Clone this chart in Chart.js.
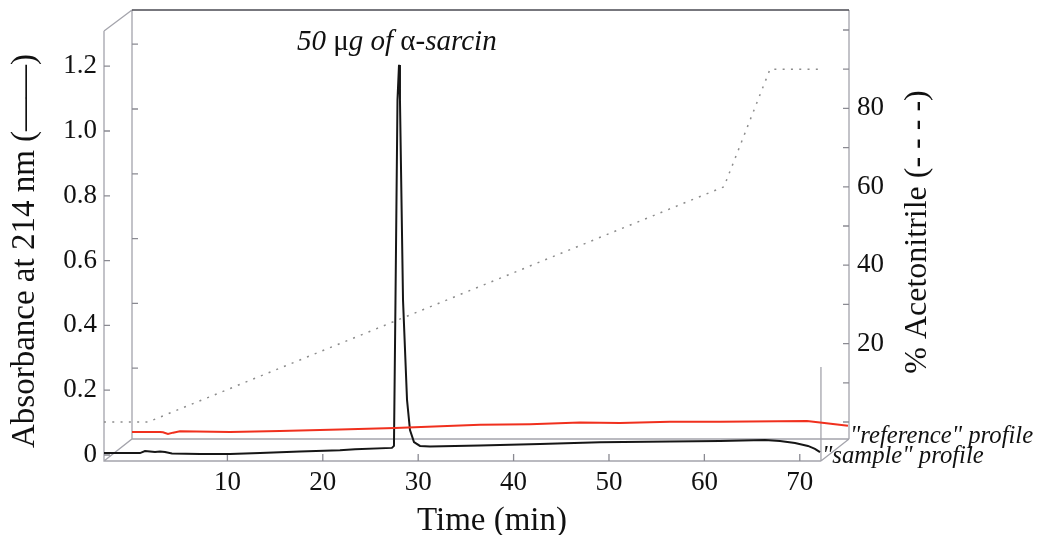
<!DOCTYPE html>
<html><head><meta charset="utf-8">
<script src="https://cdn.jsdelivr.net/npm/chart.js@4.4.0/dist/chart.umd.min.js"></script>
<style>html,body{margin:0;padding:0;background:#fff}#wrap{width:1039px;height:535px}</style>
</head><body><div id="wrap"><canvas id="c" width="1039" height="535"></canvas></div>
<script>
// ---- data ----
const sampleTime = [-2.94,-0.21,0.84,1.36,1.89,2.41,2.94,3.46,4.19,7.13,10.27,13.42,17.61,21.8,23.38,27.25,27.46,27.62,27.83,27.99,28.09,28.41,28.83,29.14,29.56,30.19,31.24,36.48,42.77,49.06,56.39,61.64,66.35,67.92,69.5,70.86,71.59,72.12];
const sampleAbs  = [0.006,0.006,0.006,0.012,0.011,0.009,0.011,0.009,0.005,0.003,0.003,0.006,0.011,0.015,0.018,0.022,0.028,0.478,1.096,1.204,1.096,0.478,0.17,0.077,0.040,0.028,0.026,0.029,0.034,0.039,0.042,0.043,0.046,0.043,0.037,0.028,0.019,0.009];
const refTime = [0,2.94,3.25,3.77,4.3,5.03,10.27,15.51,21.8,27.57,36.48,41.72,46.96,51.15,56.39,61.64,70.75,72.12,75.05];
const refAbs  = [0.071,0.071,0.070,0.065,0.069,0.073,0.071,0.074,0.079,0.083,0.093,0.095,0.100,0.099,0.103,0.103,0.105,0.100,0.090];
const acnTime = [-2.94,1.68,62.05,66.88,72.12];
const acnPct  = [0,0,60,90,90];
const timeTicks = [10,20,30,40,50,60,70];
const absTicks = [0,0.2,0.4,0.6,0.8,1.0,1.2];
const acnTicks = [20,40,60,80];
const acnMinorTicks = [0,10,20,30,40,50,60,70,80,90,100];

const pts = (xs, ys) => xs.map((x, i) => ({x: x, y: ys[i]}));
const SERIF = '"Liberation Serif", "DejaVu Serif", serif';
Chart.defaults.font.family = SERIF;

const DX = 28, DY = -22; // offset of back plane
const frame = {
  id: 'frame',
  beforeDatasetsDraw(chart) {
    const ctx = chart.ctx, ca = chart.chartArea;
    const xs = chart.scales.x, ys = chart.scales.y, yr = chart.scales.yR;
    const L = ca.left, B = ca.bottom, T = ca.top;
    const FR = xs.getPixelForValue(72.22);
    const BR = ca.right;
    ctx.save();
    ctx.lineWidth = 1.3;
    ctx.strokeStyle = '#a4a4ac';
    ctx.beginPath();
    ctx.moveTo(L, T); ctx.lineTo(L, B);
    ctx.lineTo(FR, B);
    ctx.moveTo(L, B); ctx.lineTo(L + DX, B + DY);
    ctx.lineTo(BR, B + DY);
    ctx.moveTo(L + DX, B + DY); ctx.lineTo(L + DX, T + DY + 1);
    ctx.moveTo(L, T); ctx.lineTo(L + DX, T + DY + 1);
    ctx.moveTo(BR, T + DY + 1); ctx.lineTo(BR, B + DY);
    ctx.moveTo(FR, B); ctx.lineTo(BR, B + DY);
    ctx.moveTo(FR, B); ctx.lineTo(FR, 367);
    ctx.stroke();
    ctx.strokeStyle = '#4a4a52';
    ctx.beginPath(); ctx.moveTo(L + DX, T + DY + 1); ctx.lineTo(BR, T + DY + 1); ctx.stroke();
    ctx.strokeStyle = '#8a8a92';
    ctx.beginPath();
    absTicks.forEach(v => {
      const p = ys.getPixelForValue(v);
      ctx.moveTo(L, p); ctx.lineTo(L + 6, p);
      if (v > 0) { ctx.moveTo(L + DX, p + DY); ctx.lineTo(L + DX + 6, p + DY); }
    });
    acnMinorTicks.forEach(v => {
      const p = yr.getPixelForValue(v);
      ctx.moveTo(BR, p); ctx.lineTo(BR - 6, p);
    });
    timeTicks.forEach(v => {
      const p = xs.getPixelForValue(v);
      ctx.moveTo(p, B); ctx.lineTo(p, B - 7);
    });
    ctx.stroke();
    ctx.restore();
  },
  afterDraw(chart) {
    const ctx = chart.ctx;
    ctx.save();
    ctx.fillStyle = '#111';
    ctx.textAlign = 'center'; ctx.textBaseline = 'middle';
    ctx.font = '33px ' + SERIF;
    ctx.save(); ctx.translate(25, 251); ctx.rotate(-Math.PI / 2);
    ctx.fillText('Absorbance at 214 nm (\u2014\u2014)', 0, 0); ctx.restore();
    ctx.font = '32px ' + SERIF;
    ctx.save(); ctx.translate(918, 232); ctx.rotate(-Math.PI / 2);
    ctx.fillText('% Acetonitrile (- - - -)', 0, 0); ctx.restore();
    ctx.textBaseline = 'alphabetic';
    ctx.font = '33px ' + SERIF;
    ctx.fillText('Time (min)', 492, 530);
    ctx.textAlign = 'left';
    const parts = [['50 ', true], ['\u03bc', false], ['g of ', true], ['\u03b1', false], ['-sarcin', true]];
    let x = 297;
    parts.forEach(([s, it]) => {
      ctx.font = (it ? 'italic ' : '') + '29px ' + SERIF;
      ctx.fillText(s, x, 50);
      x += ctx.measureText(s).width;
    });
    ctx.font = 'italic 24.7px ' + SERIF;
    ctx.fillText('"reference" profile', 850, 443);
    ctx.fillText('"sample" profile', 822, 463);
    ctx.restore();
  }
};

new Chart(document.getElementById('c'), {
  type: 'line',
  data: {
    datasets: [
      {label: 'reference', data: pts(refTime, refAbs), xAxisID: 'x', yAxisID: 'y', borderColor: '#f0301e', borderWidth: 2},
      {label: 'acetonitrile', data: pts(acnTime, acnPct), xAxisID: 'x', yAxisID: 'yR', borderColor: '#8c8c8c', borderWidth: 1.5, borderDash: [2, 6.3]},
      {label: 'sample', data: pts(sampleTime, sampleAbs), xAxisID: 'x', yAxisID: 'y', borderColor: '#161616', borderWidth: 2}
    ]
  },
  options: {
    responsive: false, animation: false, devicePixelRatio: 1,
    layout: {padding: {top: 31, left: 0, right: 0, bottom: 0}},
    elements: {point: {radius: 0}, line: {tension: 0}},
    plugins: {legend: {display: false}, tooltip: {enabled: false}},
    scales: {
      x: {type: 'linear', position: 'bottom', min: -2.935, max: 75.16,
        grid: {display: false, drawTicks: false}, border: {display: false},
        afterBuildTicks: s => { s.ticks = timeTicks.map(v => ({value: v})); },
        afterFit: s => { s.height = 74; },
        ticks: {font: {size: 27}, color: '#111', padding: 6, maxRotation: 0, autoSkip: false}},
      y: {type: 'linear', position: 'left', min: -0.0185, max: 1.3086,
        grid: {display: false, drawTicks: false}, border: {display: false},
        afterBuildTicks: s => { s.ticks = absTicks.map(v => ({value: v})); },
        afterFit: s => { s.width = 104; },
        ticks: {font: {size: 27}, color: '#111', padding: 7, callback: v => v === 0 ? '0' : v.toFixed(1)}},
      yR: {type: 'linear', position: 'right', min: -9.95, max: 99.74,
        grid: {display: false, drawTicks: false}, border: {display: false},
        afterBuildTicks: s => { s.ticks = acnTicks.map(v => ({value: v})); },
        afterFit: s => { s.width = 190; },
        ticks: {font: {size: 27}, color: '#111', padding: 8}}
    }
  },
  plugins: [frame]
});
</script>
</body></html>
